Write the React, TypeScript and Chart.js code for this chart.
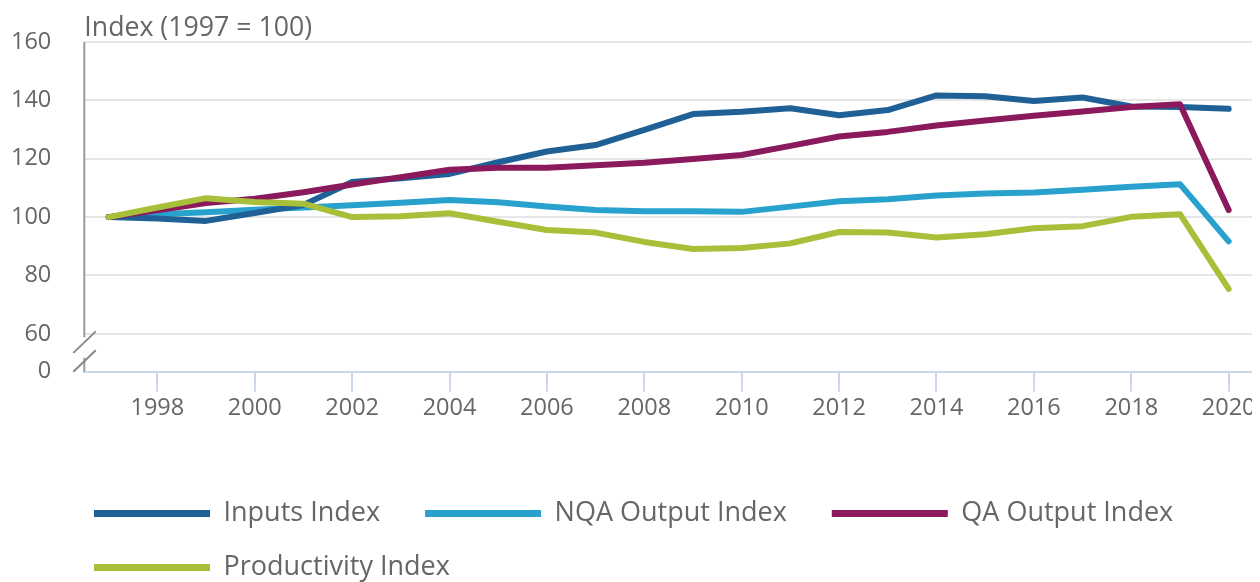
import React, { useEffect, useRef } from "react";
import { Chart, registerables } from "chart.js";

Chart.register(...registerables);

const years = [1997, 1998, 1999, 2000, 2001, 2002, 2003, 2004, 2005, 2006, 2007, 2008, 2009, 2010, 2011, 2012, 2013, 2014, 2015, 2016, 2017, 2018, 2019, 2020];
const inputsIndex = [100, 99.5, 98.7, 101.4, 104.2, 112, 113.3, 114.8, 118.8, 122.5, 124.7, 129.9, 135.3, 136.1, 137.3, 134.9, 136.7, 141.7, 141.4, 139.8, 141, 137.9, 137.7, 137.1];
const nqaOutputIndex = [100, 101, 101.7, 102.5, 103.3, 104.1, 104.9, 105.9, 105.1, 103.6, 102.4, 102, 102, 101.8, 103.6, 105.4, 106.1, 107.4, 108.1, 108.4, 109.4, 110.4, 111.3, 91.7];
const qaOutputIndex = [100, 102.3, 104.8, 106.3, 108.5, 111.2, 113.7, 116.2, 116.9, 116.9, 117.8, 118.6, 119.9, 121.3, 124.4, 127.6, 129.2, 131.4, 133.1, 134.7, 136.2, 137.7, 138.7, 102.4];
const productivityIndex = [100, 103.3, 106.5, 105.2, 104.6, 100, 100.3, 101.3, 98.4, 95.6, 94.7, 91.5, 89.1, 89.4, 91, 94.9, 94.7, 93, 94.1, 96.2, 96.9, 100.1, 101, 75.4];

const seriesNames = ["Inputs Index", "NQA Output Index", "QA Output Index", "Productivity Index"];
const xTickValues = [1998, 2000, 2002, 2004, 2006, 2008, 2010, 2012, 2014, 2016, 2018, 2020];
const yTickValues = [60, 80, 100, 120, 140, 160];
const yBreakValue = 47; // position of the broken-axis "0"
const yBreakLabel = "0";
const yAxisTitle = "Index (1997 = 100)";

const FONT = "'Open Sans', 'Noto Sans', sans-serif";
const TEXT = "#666666";

export default function App() {
  const ref = useRef<HTMLCanvasElement | null>(null);

  useEffect(() => {
    if (!ref.current) return;
    const toPts = (vals: number[]) => years.map((y, i) => ({ x: y, y: vals[i] }));
    const colors = ["#1f6196", "#28a2cd", "#8a1a5c", "#a8bf3a"];
    const values = [inputsIndex, nqaOutputIndex, qaOutputIndex, productivityIndex];
    const drawOrder = [2, 3, 1, 0];

    const decor = {
      id: "decor",
      afterLayout(chart: any) {
        if (chart.legend) {
          chart.legend.left = 59;
        }
      },
      beforeDatasetsDraw(chart: any) {
        const { ctx, chartArea, scales } = chart;
        const left = chartArea.left;
        const bottom = chartArea.bottom;
        const y60 = scales.y.getPixelForValue(60);
        ctx.save();
        ctx.strokeStyle = "#999999";
        ctx.lineWidth = 2;
        ctx.beginPath();
        ctx.moveTo(left, chartArea.top);
        ctx.lineTo(left, y60 + 3.4);
        ctx.moveTo(left, bottom - 14);
        ctx.lineTo(left, bottom);
        ctx.stroke();
        ctx.strokeStyle = "#8a8a8a";
        ctx.beginPath();
        ctx.moveTo(left - 11, y60 + 19);
        ctx.lineTo(left + 11.5, y60 - 2.5);
        ctx.moveTo(left - 11, bottom);
        ctx.lineTo(left + 11.5, bottom - 21.5);
        ctx.stroke();
        ctx.restore();
      },
      afterDraw(chart: any) {
        const { ctx, chartArea } = chart;
        ctx.save();
        ctx.font = `26.7px ${FONT}`;
        ctx.fillStyle = TEXT;
        ctx.textAlign = "left";
        ctx.textBaseline = "alphabetic";
        ctx.fillText(yAxisTitle, chartArea.left, chartArea.top - 6.3);
        ctx.restore();
      },
    };

    const chart = new Chart(ref.current, {
      type: "line",
      data: {
        datasets: seriesNames.map((name, i) => ({
          label: name,
          data: toPts(values[i]),
          borderColor: colors[i],
          backgroundColor: colors[i],
          borderWidth: 6,
          pointRadius: 0,
          pointHoverRadius: 0,
          tension: 0,
          borderCapStyle: "round" as const,
          borderJoinStyle: "round" as const,
          order: drawOrder[i],
        })),
      },
      options: {
        animation: false,
        responsive: true,
        maintainAspectRatio: false,
        layout: { padding: { top: 34, left: 0, right: 7, bottom: 0 } },
        plugins: {
          tooltip: { enabled: false },
          title: { display: false },
          legend: {
            position: "bottom",
            align: "start",
            labels: {
              boxWidth: 116,
              boxHeight: 7,
              padding: 27,
              color: TEXT,
              font: { family: FONT, size: 27 },
              generateLabels: (c: any) =>
                c.data.datasets.map((ds: any, i: number) => ({
                  text: ds.label + "\u2002\u2009",
                  fillStyle: ds.borderColor,
                  strokeStyle: ds.borderColor,
                  lineWidth: 0,
                  hidden: false,
                  datasetIndex: i,
                  fontColor: TEXT,
                })),
            },
          },
        },
        scales: {
          x: {
            type: "linear",
            min: 1996.5,
            max: 2020.5,
            afterBuildTicks: (s: any) => {
              s.ticks = xTickValues.map((v) => ({ value: v }));
            },
            afterFit: (s: any) => {
              s.paddingRight = 0;
            },
            ticks: {
              padding: 2,
              color: TEXT,
              font: { family: FONT, size: 23.5 },
              maxRotation: 0,
              autoSkip: false,
              callback: (v: any) => String(v),
            },
            grid: {
              display: true,
              drawOnChartArea: false,
              drawTicks: true,
              tickLength: 20,
              color: "#cdd7ec",
              tickColor: "#cdd7ec",
              lineWidth: 2,
            },
            border: { display: true, color: "#cdd7ec", width: 2 },
            title: {
              display: true,
              text: "",
              font: { size: 1, lineHeight: 1 },
              padding: { top: 48, bottom: 0 },
            },
          },
          y: {
            type: "linear",
            min: yBreakValue,
            max: 160,
            afterBuildTicks: (s: any) => {
              s.ticks = [yBreakValue, ...yTickValues].map((v) => ({ value: v }));
            },
            ticks: {
              padding: 3,
              color: TEXT,
              font: { family: FONT, size: 23.5 },
              autoSkip: false,
              callback: (v: any) => (v === yBreakValue ? yBreakLabel : String(v)),
            },
            grid: {
              drawTicks: true,
              tickLength: 30,
              tickColor: "rgba(0,0,0,0)",
              lineWidth: 2,
              color: (c: any) => (c.tick && c.tick.value === yBreakValue ? "rgba(0,0,0,0)" : "#e6e6e6"),
            },
            border: { display: false },
          },
        },
      },
      plugins: [decor],
    } as any);

    return () => chart.destroy();
  }, []);

  return (
    <div style={{ position: "relative", width: "calc(100% + 8px)", height: 583 }}>
      <canvas ref={ref} />
    </div>
  );
}
